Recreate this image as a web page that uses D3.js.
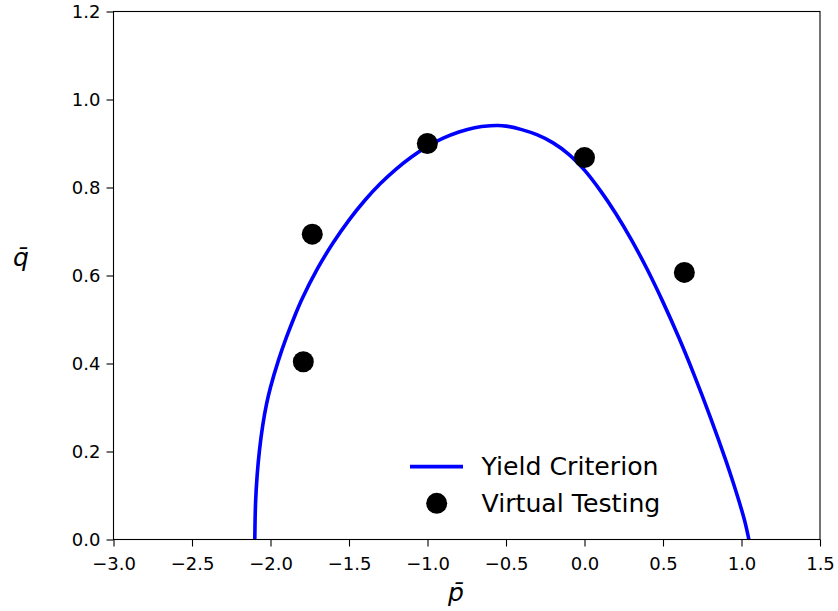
<!DOCTYPE html>
<html>
<head>
<meta charset="utf-8">
<script src="https://cdn.jsdelivr.net/npm/d3@7"></script>
<style>
  html, body { margin: 0; padding: 0; background: #fff; }
  svg { display: block; font-family: "DejaVu Sans", sans-serif; }
</style>
</head>
<body>
<svg id="chart" width="838" height="611"></svg>
<script>
// ---- data ----
const curveP = [-2.100, -2.095, -2.085, -2.070, -2.050, -2.025, -2.000, -1.950, -1.900, -1.850, -1.800, -1.700, -1.600, -1.500, -1.400, -1.300, -1.200, -1.100, -1.000, -0.900, -0.800, -0.700, -0.600, -0.550, -0.500, -0.400, -0.300, -0.200, -0.100, 0.000, 0.100, 0.200, 0.300, 0.400, 0.500, 0.600, 0.700, 0.800, 0.900, 0.950, 1.000, 1.025, 1.047];
const curveQ = [0.000, 0.085, 0.146, 0.2035, 0.258, 0.308, 0.346, 0.4065, 0.458, 0.504, 0.546, 0.616, 0.675, 0.726, 0.7705, 0.809, 0.842, 0.870, 0.8935, 0.912, 0.926, 0.936, 0.9405, 0.941, 0.9395, 0.9315, 0.9195, 0.9015, 0.8755, 0.8395, 0.7935, 0.7405, 0.6805, 0.6135, 0.5395, 0.4595, 0.3725, 0.2795, 0.180, 0.126, 0.068, 0.0355, 0.000];
const testP = [-1.791, -1.734, -1.001, 0.000, 0.636];
const testQ = [0.404, 0.694, 0.900, 0.868, 0.607];
const xTicks = [-3.0, -2.5, -2.0, -1.5, -1.0, -0.5, 0.0, 0.5, 1.0, 1.5];
const yTicks = [0.0, 0.2, 0.4, 0.6, 0.8, 1.0, 1.2];
const legendLabels = ["Yield Criterion", "Virtual Testing"];

// ---- layout ----
const svg = d3.select("#chart");
const L = 113.5, R = 820, T = 11.5, B = 539.5;
const x = d3.scaleLinear().domain([-3.0, 1.5]).range([L, R]);
const y = d3.scaleLinear().domain([0, 1.2]).range([B, T]);
const fmt = d3.format(".1f");

svg.append("rect").attr("width", 838).attr("height", 611).attr("fill", "#fff");

// axes
const xAxis = d3.axisBottom(x).tickValues(xTicks).tickFormat(fmt).tickSizeOuter(0).tickSizeInner(7).tickPadding(6);
const yAxis = d3.axisLeft(y).tickValues(yTicks).tickFormat(fmt).tickSizeOuter(0).tickSizeInner(7).tickPadding(6);

const gx = svg.append("g").attr("transform", `translate(0,${B})`).call(xAxis);
const gy = svg.append("g").attr("transform", `translate(${L},0)`).call(yAxis);
[gx, gy].forEach(g => {
  g.select(".domain").remove();
  g.selectAll(".tick line").attr("stroke", "#000").attr("stroke-width", 1.1);
  g.selectAll(".tick text").attr("fill", "#000").attr("font-size", 18).attr("font-family", "DejaVu Sans");
});
gx.selectAll(".tick text").attr("dy", "0.95em");
gy.selectAll(".tick text").attr("dy", "0.36em");

// curve
const curveData = curveP.map((p, i) => [p, curveQ[i]]);
svg.append("path")
  .datum(curveData)
  .attr("fill", "none")
  .attr("stroke", "#0000ff")
  .attr("stroke-width", 3.6)
  .attr("stroke-linejoin", "round")
  .attr("d", d3.line().x(d => x(d[0])).y(d => y(d[1])).curve(d3.curveCatmullRom.alpha(0.5)));

// test points
svg.selectAll("circle.test")
  .data(testP.map((p, i) => [p, testQ[i]]))
  .enter().append("circle")
  .attr("class", "test")
  .attr("cx", d => x(d[0]))
  .attr("cy", d => y(d[1]))
  .attr("r", 10.5)
  .attr("fill", "#000");

// frame
svg.append("rect")
  .attr("x", L).attr("y", T).attr("width", R - L).attr("height", B - T)
  .attr("fill", "none").attr("stroke", "#000").attr("stroke-width", 1.1);

// axis labels
svg.append("text")
  .attr("x", 456).attr("y", 601)
  .attr("text-anchor", "middle")
  .attr("font-size", 25).attr("font-style", "italic")
  .attr("fill", "#000")
  .text("p\u0304");
svg.append("text")
  .attr("x", 21).attr("y", 266)
  .attr("text-anchor", "middle")
  .attr("font-size", 25).attr("font-style", "italic")
  .attr("fill", "#000")
  .text("q\u0304");

// legend
const lg = svg.append("g");
lg.append("line")
  .attr("x1", 410).attr("x2", 463).attr("y1", 466.7).attr("y2", 466.7)
  .attr("stroke", "#0000ff").attr("stroke-width", 3.8);
lg.append("circle").attr("cx", 436.7).attr("cy", 503.3).attr("r", 10.5).attr("fill", "#000");
lg.selectAll("text")
  .data(legendLabels)
  .enter().append("text")
  .attr("x", 481.5)
  .attr("y", (d, i) => 475 + i * 37)
  .attr("font-size", 25.2)
  .attr("fill", "#000")
  .text(d => d);
</script>
</body>
</html>
